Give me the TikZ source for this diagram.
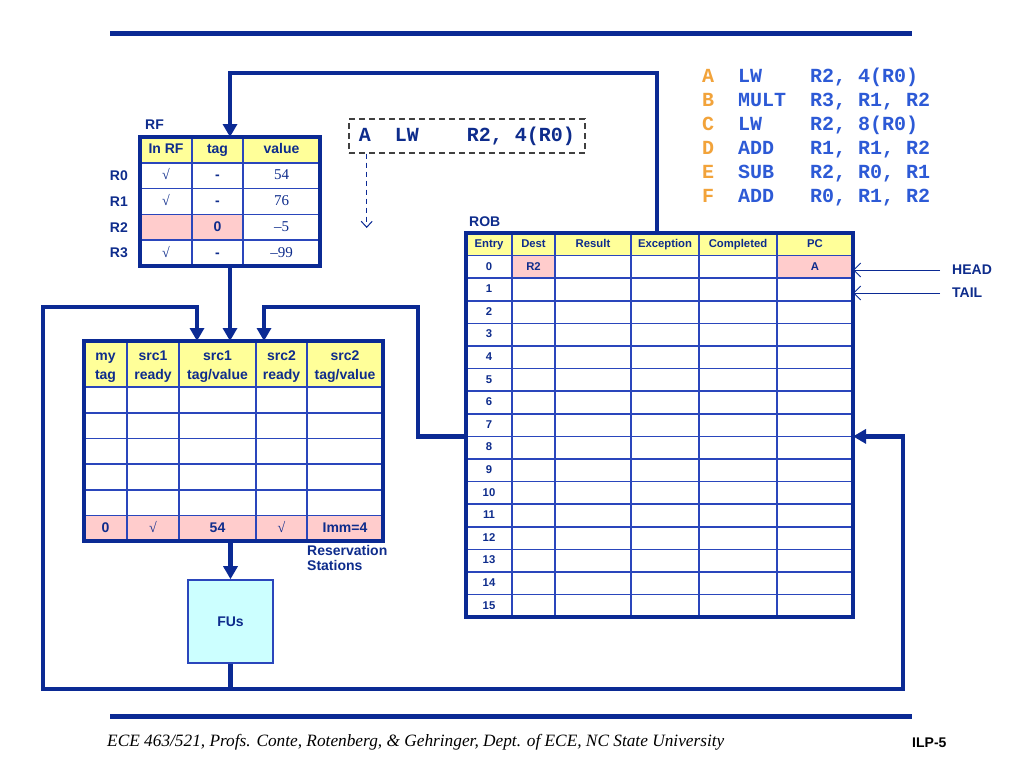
\documentclass[tikz,border=0pt]{standalone}
\usepackage{fontspec}
\setmainfont{Liberation Serif}
\setsansfont{Liberation Sans}
\setmonofont{Liberation Mono}
\usetikzlibrary{arrows.meta, positioning, fit}
\definecolor{navyline}{HTML}{0B2A94}
\definecolor{gridblue}{HTML}{2A46BC}
\definecolor{navytext}{HTML}{0E2C8C}
\definecolor{hdryellow}{HTML}{FFFF99}
\definecolor{cellpink}{HTML}{FFCCCC}
\definecolor{fucyan}{HTML}{CCFFFF}
\definecolor{instblue}{HTML}{2D5AD6}
\definecolor{instorange}{HTML}{F2A33A}
\newcommand{\okmark}{{\rmfamily\mdseries\char"221A}}

\tikzset{
  cell/.style={draw=gridblue, line width=1.6pt, fill=white, inner sep=0pt, outer sep=0pt, text=navytext, align=center, text height=10pt, text depth=2pt, font=\sffamily\bfseries\fontsize{14}{19}\selectfont},
  hdrcell/.style={cell, fill=hdryellow},
  pinkcell/.style={cell, fill=cellpink},
  robcell/.style={cell, minimum height=22.6pt, text height=8pt, text depth=1.6pt, font=\sffamily\bfseries\fontsize{11.3}{13}\selectfont},
  serifval/.style={font=\rmfamily\fontsize{15}{18}\selectfont},
  tblframe/.style={draw=navyline, line width=4pt, inner sep=0pt, outer sep=0pt},
  lbl/.style={font=\sffamily\bfseries\fontsize{14}{15}\selectfont, text=navytext, inner sep=0pt},
  bus/.style={draw=navyline, line width=4.5pt},
  busarrow/.style={-{Triangle[length=13pt,width=14pt]}},
  ptr/.style={draw=navyline, line width=1pt, -{Straight Barb[length=7pt,width=14pt]}},
  mono/.style={font=\ttfamily\bfseries\fontsize{20}{24}\selectfont, inner sep=0pt},
}

\begin{document}
\begin{tikzpicture}[x=1pt, y=-1pt]
    \fill[white] (0,0) rectangle (1024,768);

    % Slide rules
    \draw[navyline, line width=5pt] (110,34) -- (912,34);
    \draw[navyline, line width=5pt] (110,716) -- (912,716);

    % Register file
    \foreach \c/\xl/\xr/\t in {1/140/192/In RF, 2/192/243/tag, 3/243/320/value}
        \node[hdrcell, minimum width={(\xr-\xl)*1pt}, minimum height=25.8pt] (rf-h-\c) at ({(\xl+\xr)/2},149.9) {\t};
    \foreach \r/\y/\a/\b/\v in {0/175.7/\okmark/-/54, 1/201.5/\okmark/-/76, 3/253.1/\okmark/-/{\textendash99}} {
        \node[cell, minimum width=52pt, minimum height=25.8pt] (rf-\r-1) at (166,\y) {\a};
        \node[cell, minimum width=51pt, minimum height=25.8pt] (rf-\r-2) at (217.5,\y) {\b};
        \node[cell, serifval, minimum width=77pt, minimum height=25.8pt] (rf-\r-3) at (281.5,\y) {\v};
    }
    \node[pinkcell, minimum width=52pt, minimum height=25.8pt] (rf-2-1) at (166,227.3) {};
    \node[pinkcell, minimum width=51pt, minimum height=25.8pt] (rf-2-2) at (217.5,227.3) {0};
    \node[cell, serifval, minimum width=77pt, minimum height=25.8pt] (rf-2-3) at (281.5,227.3) {\textendash5};
    \node[tblframe, fit=(rf-h-1)(rf-3-3)] (rf) {};
    \node[lbl, anchor=south west] (rf-lab) at ([xshift=5pt,yshift=7pt]rf.north west) {RF};
    \foreach \r in {0,...,3}
        \node[lbl, anchor=east] (rf-reg-\r) at ([xshift=-12pt]rf-\r-1.west) {R\r};

    % Reservation stations
    \foreach \c/\xl/\xr/\t in {1/84/127/{my\\tag}, 2/127/179/{src1\\ready}, 3/179/256/{src1\\tag/value}, 4/256/307/{src2\\ready}, 5/307/383/{src2\\tag/value}}
        \node[hdrcell, text height=31pt, text depth=1pt, minimum width={(\xr-\xl)*1pt}, minimum height=46pt] (rs-h-\c) at ({(\xl+\xr)/2},364) {\t};
    \foreach \r in {1,...,5}
        \foreach \c/\xl/\xr in {1/84/127, 2/127/179, 3/179/256, 4/256/307, 5/307/383}
            \node[cell, minimum width={(\xr-\xl)*1pt}, minimum height=25.7pt] (rs-\r-\c) at ({(\xl+\xr)/2},{387+(\r-0.5)*25.7}) {};
    \foreach \c/\xl/\xr/\t in {1/84/127/0, 2/127/179/\okmark, 3/179/256/54, 4/256/307/\okmark, 5/307/383/Imm=4}
        \node[pinkcell, minimum width={(\xr-\xl)*1pt}, minimum height=25.7pt] (rs-6-\c) at ({(\xl+\xr)/2},528.35) {\t};
    \node[tblframe, fit=(rs-h-1)(rs-6-5)] (rs) {};
    \node[lbl, anchor=north west, align=left] (rs-lab) at ([yshift=-4pt]rs-6-5.south west) {Reservation\\Stations};

    % Functional units
    \node[draw=gridblue, line width=1.6pt, fill=fucyan, minimum width=85pt, minimum height=83pt, lbl] (fu) at (230.5,621.5) {FUs};

    % Reorder buffer
    \foreach \c/\xl/\xr/\t in {1/466/512/Entry, 2/512/555/Dest, 3/555/631/Result, 4/631/699/Exception, 5/699/777/Completed, 6/777/853/PC}
        \node[robcell, fill=hdryellow, minimum width={(\xr-\xl)*1pt}] (rob-h-\c) at ({(\xl+\xr)/2},244.3) {\t};
    \foreach \r in {0,...,15} {
        \node[robcell, minimum width=46pt] (rob-\r-1) at (489,{255.6+(\r+0.5)*22.6}) {\r};
        \foreach \c/\xl/\xr in {2/512/555, 3/555/631, 4/631/699, 5/699/777, 6/777/853}
            \node[robcell, minimum width={(\xr-\xl)*1pt}] (rob-\r-\c) at ({(\xl+\xr)/2},{255.6+(\r+0.5)*22.6}) {};
    }
    \node[robcell, fill=cellpink, minimum width=43pt] (rob-0-2) at (533.5,266.9) {R2};
    \node[robcell, fill=cellpink, minimum width=76pt] (rob-0-6) at (815,266.9) {A};
    \node[tblframe, fit=(rob-h-1)(rob-15-6)] (rob) {};
    \node[lbl, anchor=south west] (rob-lab) at ([xshift=3pt,yshift=6pt]rob.north west) {ROB};

    % Head and tail pointers
    \node[lbl, anchor=west] (head) at (952,270) {HEAD};
    \node[lbl, anchor=west] (tail) at (952,293) {TAIL};
    \draw[ptr] ([xshift=-12pt]head.west) -- (head -| rob.east);
    \draw[ptr] ([xshift=-12pt]tail.west) -- (tail -| rob.east);

    % Instruction being dispatched
    \node[draw=black!75, dash pattern=on 6pt off 4pt, line width=1.3pt, minimum width=236pt, minimum height=34pt, mono, text=navytext] (fetch) at (467,136) {A~~LW~~~~R2,~4(R0)};
    \coordinate (fetchend) at (366.7,228);
    \draw[ptr, dash pattern=on 5pt off 4pt, -{Straight Barb[length=6pt,width=11pt]}] (fetch.south -| fetchend) -- (fetchend);

    % Program
    \foreach \l/\op/\arg [count=\i from 0] in {A/LW/{R2,~4(R0)}, B/MULT/{R3,~R1,~R2}, C/LW/{R2,~8(R0)}, D/ADD/{R1,~R1,~R2}, E/SUB/{R2,~R0,~R1}, F/ADD/{R0,~R1,~R2}} {
        \node[mono, text=instorange, anchor=base west] (ins-\l) at (702,{82+24*\i}) {\l};
        \node[mono, text=instblue, anchor=base west] (op-\l) at (738,{82+24*\i}) {\op};
        \node[mono, text=instblue, anchor=base west] (arg-\l) at (810,{82+24*\i}) {\arg};
    }

    % Buses
    \coordinate (robtap) at (657,73);
    \coordinate (loopL) at (43,307);
    \coordinate (loopM) at (418,307);
    \coordinate (loopR) at (903,689);
    \coordinate (rsinL) at (197,341);
    \coordinate (rsinR) at (264,341);
    \draw[bus, busarrow] (rob.north -| robtap) -- (robtap) -| (rf.north);
    \draw[bus, busarrow] (rf.south) -- (rf.south |- rs.north);
    \draw[bus, busarrow] (rs.south -| fu.north) -- (fu.north);
    \draw[bus, busarrow] (fu.south) -- (fu.south |- loopR) -| (loopL) -| (rs.north -| rsinL);
    \draw[bus, busarrow] (fu.south |- loopR) -- (loopR) |- (rob.east |- rob-8-1.north);
    \draw[bus, busarrow] (rob.west |- rob-8-1.north) -| (loopM) -| (rs.north -| rsinR);

    % Footer
    \node[anchor=west, inner sep=0pt, font=\rmfamily\itshape\fontsize{17.3}{20}\selectfont] (foot) at (107,742) {ECE 463/521, Profs. Conte, Rotenberg, \& Gehringer, Dept. of ECE, NC State University};
    \node[anchor=west, inner sep=0pt, font=\sffamily\bfseries\fontsize{14}{16}\selectfont] (page) at (912,743) {ILP-5};
\end{tikzpicture}
\end{document}
